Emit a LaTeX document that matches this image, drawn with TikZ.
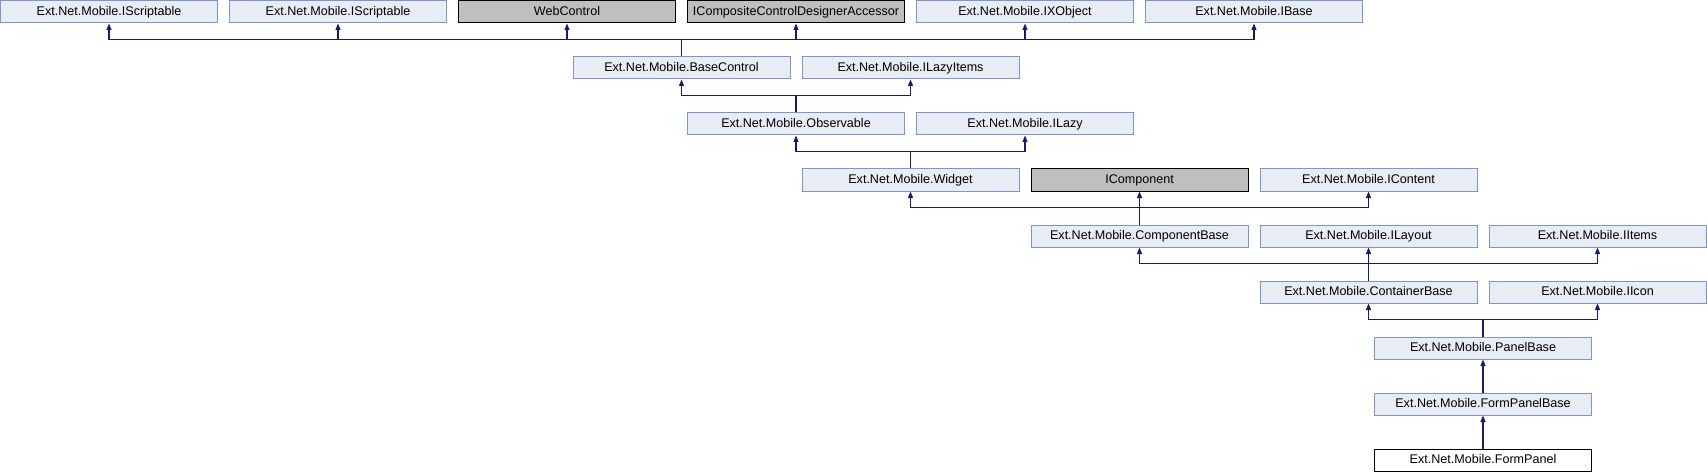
\documentclass[tikz,border=0pt]{standalone}
\usepackage{fontspec}
\setmainfont{Liberation Sans}
\usetikzlibrary{arrows.meta}
\definecolor{edgeblue}{HTML}{191970}
\definecolor{boxfill}{HTML}{E8ECF5}
\definecolor{boxline}{HTML}{7B96CF}
\definecolor{grayfill}{HTML}{BFBFBF}
\tikzset{
  cls/.style={draw=boxline, fill=boxfill, line width=1pt, minimum width=217pt, minimum height=22pt,
    inner sep=0pt, text height=9pt, text depth=2.4pt, font=\fontsize{12.57}{14}\selectfont},
  ext/.style={cls, draw=black, fill=grayfill},
  cur/.style={cls, draw=black, fill=white},
  edge/.style={draw=edgeblue, line width=1.2pt, -{Triangle[length=6.5pt,width=5pt]}}
}
\begin{document}
\begin{tikzpicture}[x=1pt,y=1pt]
\useasboundingbox (0,0) rectangle (1707,472);
% row 1 (y=460)
\node[cls] (s1) at (109,460) {Ext.Net.Mobile.IScriptable};
\node[cls] (s2) at (338,460) {Ext.Net.Mobile.IScriptable};
\node[ext] (wc) at (567,460) {WebControl};
\node[ext] (icd) at (796,460) {ICompositeControlDesignerAccessor};
\node[cls] (ixo) at (1025,460) {Ext.Net.Mobile.IXObject};
\node[cls] (ib) at (1254,460) {Ext.Net.Mobile.IBase};
% row 2
\node[cls] (bc) at (681.5,404) {Ext.Net.Mobile.BaseControl};
\node[cls] (ili) at (910.5,404) {Ext.Net.Mobile.ILazyItems};
% row 3
\node[cls] (obs) at (796,348) {Ext.Net.Mobile.Observable};
\node[cls] (il) at (1025,348) {Ext.Net.Mobile.ILazy};
% row 4
\node[cls] (wid) at (910.5,292) {Ext.Net.Mobile.Widget};
\node[ext] (icomp) at (1139.5,292) {IComponent};
\node[cls] (icont) at (1368.5,292) {Ext.Net.Mobile.IContent};
% row 5
\node[cls] (cb) at (1139.5,236) {Ext.Net.Mobile.ComponentBase};
\node[cls] (ilay) at (1368.5,236) {Ext.Net.Mobile.ILayout};
\node[cls] (iit) at (1597.5,236) {Ext.Net.Mobile.IItems};
% row 6
\node[cls] (cnb) at (1368.5,180) {Ext.Net.Mobile.ContainerBase};
\node[cls] (iic) at (1597.5,180) {Ext.Net.Mobile.IIcon};
% rows 7-9
\node[cls] (pb) at (1483,124) {Ext.Net.Mobile.PanelBase};
\node[cls] (fpb) at (1483,68) {Ext.Net.Mobile.FormPanelBase};
\node[cur] (fp) at (1483,12) {Ext.Net.Mobile.FormPanel};
% edges
\foreach \p in {s1,s2,wc,icd,ixo,ib}
  \draw[edge] (bc.north) -- ++(0,17) -| (\p.south);
\foreach \p in {bc,ili}
  \draw[edge] (obs.north) -- ++(0,17) -| (\p.south);
\foreach \p in {obs,il}
  \draw[edge] (wid.north) -- ++(0,17) -| (\p.south);
\foreach \p in {wid,icomp,icont}
  \draw[edge] (cb.north) -- ++(0,17) -| (\p.south);
\foreach \p in {cb,ilay,iit}
  \draw[edge] (cnb.north) -- ++(0,17) -| (\p.south);
\foreach \p in {cnb,iic}
  \draw[edge] (pb.north) -- ++(0,17) -| (\p.south);
\draw[edge] (fpb.north) -- (pb.south);
\draw[edge] (fp.north) -- (fpb.south);
\end{tikzpicture}
\end{document}
